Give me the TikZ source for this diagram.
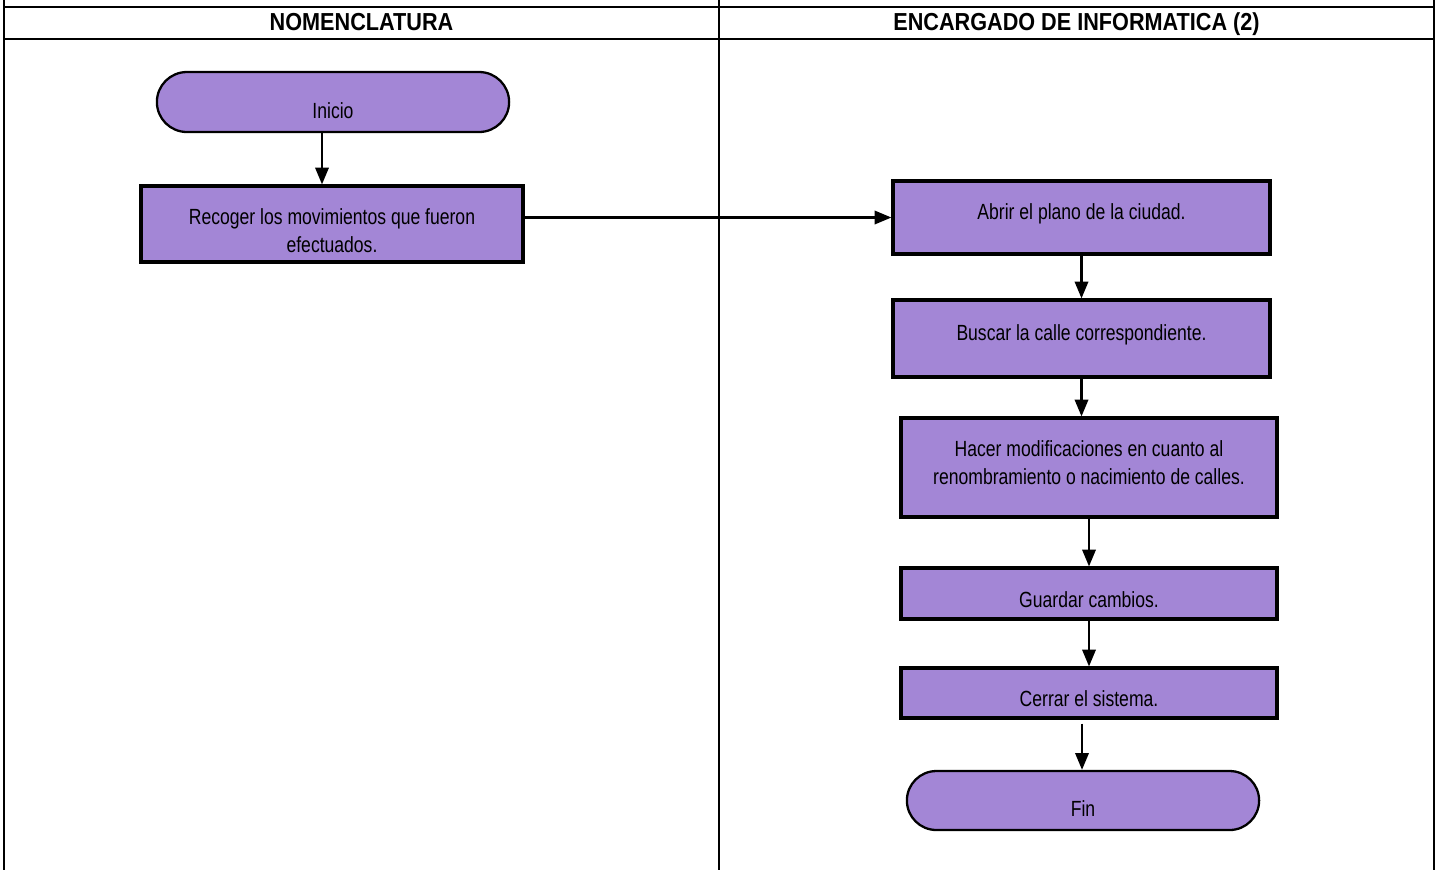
\documentclass[tikz,border=0pt]{standalone}
\usepackage{fontspec}
\setmainfont{Liberation Sans}
\newfontfamily\narrowfont{Liberation Sans}[FakeStretch=0.8]
\newfontfamily\headfont{Liberation Sans}[FakeStretch=0.88]
\usetikzlibrary{arrows.meta, positioning, shapes.misc, calc}
\definecolor{lila}{RGB}{163,134,214}

\begin{document}
\begin{tikzpicture}[
    x=0.02cm, y=-0.02cm,
    proc/.style={rectangle, draw, line width=1.8pt, fill=lila, minimum width=7.54cm, align=center, font=\narrowfont\fontsize{12.5}{15.9}\selectfont},
    term/.style={rounded rectangle, draw, line width=1.3pt, fill=lila, minimum width=7.28cm, minimum height=1.2cm, font=\narrowfont\fontsize{12.5}{15.9}\selectfont},
    txt/.style 2 args={text height=#1, text depth=#2},
    arr/.style={-{Triangle[length=9.6pt, width=7.6pt]}, line width=1.4pt},
    head/.style={font=\headfont\bfseries\fontsize{14}{16}\selectfont, text depth=0pt},
    grid/.style={line width=1.4pt}
]
    \useasboundingbox (0,0) rectangle (1439,870);

    % === Tabla: dos carriles ===
    \foreach \xx in {4, 719, 1434}
        \draw[grid] (\xx,0) -- (\xx,870);
    \foreach \yy in {7, 39}
        \draw[grid] (4,\yy) -- (1434,\yy);

    \node[head] (nomen) at (361.5,22) {NOMENCLATURA};
    \node[head] (encargado) at (1076.5,22) {ENCARGADO DE INFORMATICA (2)};

    % Carril izquierdo
    \node[term, txt={18.6pt}{0pt}] (inicio) at (333,102) {Inicio};
    \node[proc, txt={32.9pt}{0pt}, minimum width=7.64cm, minimum height=1.52cm] (recoger) at (332,224) {Recoger los movimientos que fueron\\efectuados.};

    % Carril derecho
    \node[proc, txt={2.3pt}{0pt}, minimum height=1.46cm] (abrir) at (1081.5,217.5) {Abrir el plano de la ciudad.};
    \node[proc, txt={2.3pt}{0pt}, minimum height=1.54cm] (buscar) at (1081.5,338.5) {Buscar la calle correspondiente.};
    \node[proc, txt={19.8pt}{0pt}, minimum width=7.52cm, minimum height=1.98cm] (hacer) at (1089,467.5) {Hacer modificaciones en cuanto al\\renombramiento o nacimiento de calles.};
    \node[proc, txt={16.4pt}{0pt}, minimum width=7.52cm, minimum height=1.02cm] (guardar) at (1089,593.5) {Guardar cambios.};
    \node[proc, txt={15.8pt}{0pt}, minimum width=7.52cm, minimum height=1.0cm] (cerrar) at (1089,693) {Cerrar el sistema.};
    \node[term, txt={18.2pt}{0pt}, minimum height=1.18cm] (fin) at (1083,800.5) {Fin};

    % === Flechas ===
    \draw[arr] ($(inicio.south)+(-11,0)$) -- ($(recoger.north)+(-10,0)$);
    \draw[arr] (recoger.east |- abrir.west) -- (abrir.west);
    \draw[arr] (abrir) -- (buscar);
    \draw[arr] (buscar.south) -- (buscar.south |- hacer.north);
    \draw[arr] (hacer) -- (guardar);
    \draw[arr] (guardar) -- (cerrar);
    \draw[arr] ($(cerrar.south)+(-7,4)$) -- ($(fin.north)+(-1,0)$);

\end{tikzpicture}
\end{document}
